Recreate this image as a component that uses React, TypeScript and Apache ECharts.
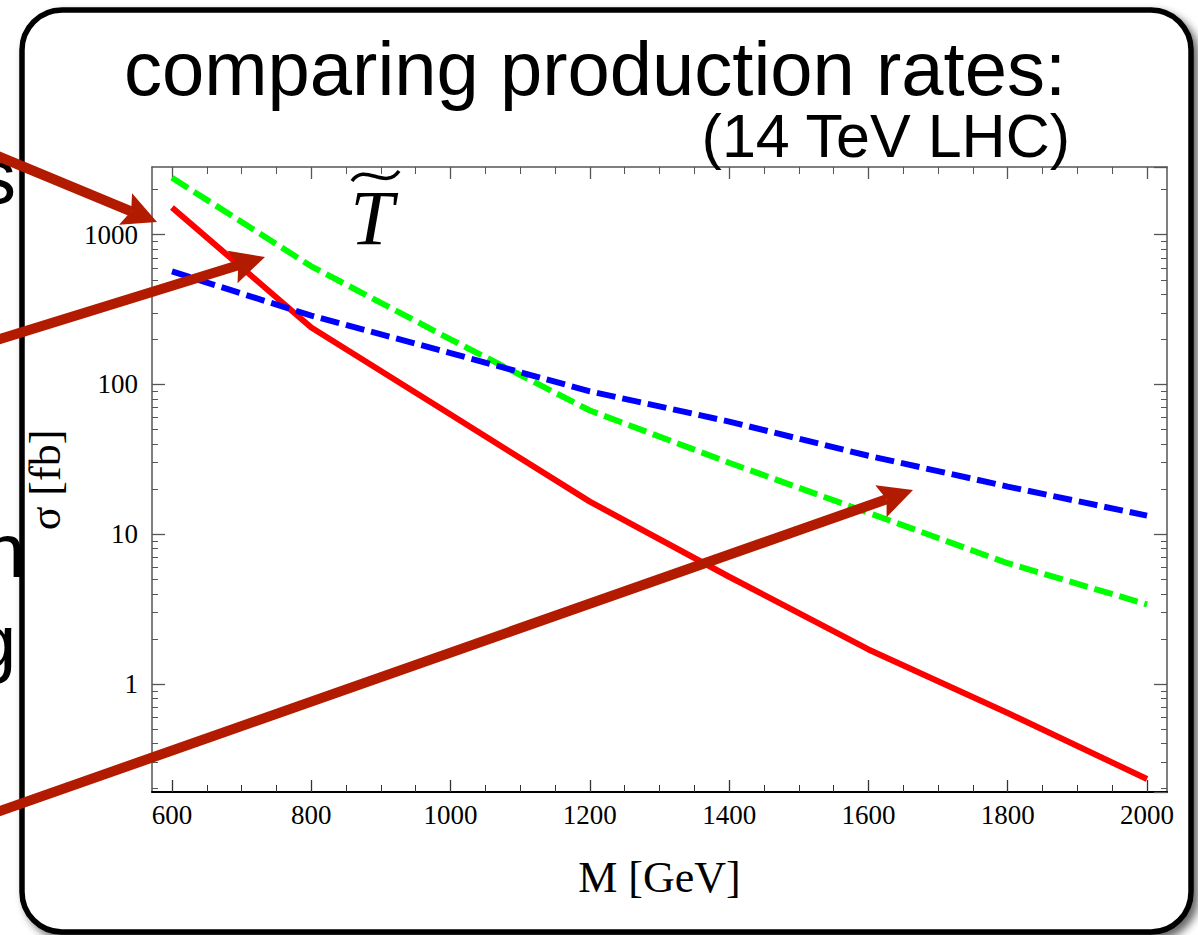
import React, { useEffect, useRef } from "react";
import * as echarts from "echarts";

// ---- data ----
const MASS = [600, 800, 1000, 1200, 1400, 1600, 1800, 2000];
const SIGMA_RED = [1520, 240, 63, 16.5, 5.2, 1.7, 0.64, 0.232];
const SIGMA_GREEN = [2400, 615, 200, 67, 30, 13.9, 6.4, 3.4];
const SIGMA_BLUE = [568, 288, 162, 90, 56.5, 33.4, 20.8, 13.3];

// ---- axes ----
const X_MIN = 571.3;
const X_MAX = 2028.7;
const Y_MIN = 0.19;
const Y_MAX = 2830;
const X_MAJOR = [600, 800, 1000, 1200, 1400, 1600, 1800, 2000];
const X_MINOR = [
  650, 700, 750, 850, 900, 950, 1050, 1100, 1150, 1250, 1300, 1350, 1450, 1500,
  1550, 1650, 1700, 1750, 1850, 1900, 1950,
];
const Y_MINOR = [
  0.2, 0.3, 0.4, 0.5, 0.6, 0.7, 0.8, 0.9, 2, 3, 4, 5, 6, 7, 8, 9, 20, 30, 40, 50,
  60, 70, 80, 90, 200, 300, 400, 500, 600, 700, 800, 900, 2000,
];

// ---- texts ----
const TITLE = "comparing production rates:";
const SUBTITLE = "(14 TeV LHC)";
const X_NAME = "M [GeV]";
const Y_NAME = "σ [fb]";
const PARTICLE = "T";

// ---- slide annotation arrows: [startX, startY, tipX, tipY] ----
const ARROWS = [
  [0, 157, 157, 222],
  [0, 339, 265, 257],
  [0, 811, 913, 490],
];
const ARROW_COLOR = "#b31b00";

const SERIF = '"Liberation Serif", "Times New Roman", Times, serif';
const SANS = '"Liberation Sans", Arial, Helvetica, sans-serif';
const FRAME = "#555";
const LINE_W = 6;

function arrowElements() {
  const els: any[] = [];
  ARROWS.forEach(([x0, y0, x1, y1]) => {
    const dx = x1 - x0;
    const dy = y1 - y0;
    const len = Math.hypot(dx, dy);
    const ux = dx / len;
    const uy = dy / len;
    const nx = -uy;
    const ny = ux;
    const L = 34;
    const W = 17;
    const N = 6;
    const bx = x1 - ux * L;
    const by = y1 - uy * L;
    const kx = x1 - ux * (L - N);
    const ky = y1 - uy * (L - N);
    els.push({
      type: "line",
      z: 20,
      shape: { x1: x0 - ux * 30, y1: y0 - uy * 30, x2: kx, y2: ky },
      style: { stroke: ARROW_COLOR, lineWidth: 10 },
    });
    els.push({
      type: "polygon",
      z: 20,
      shape: {
        points: [
          [x1, y1],
          [bx + nx * W, by + ny * W],
          [kx, ky],
          [bx - nx * W, by - ny * W],
        ],
      },
      style: { fill: ARROW_COLOR },
    });
  });
  return els;
}

function buildOption() {
  const xCommon = {
    type: "value",
    min: X_MIN,
    max: X_MAX,
    splitLine: { show: false },
  };
  const lyMin = Math.log10(Y_MIN);
  const lyMax = Math.log10(Y_MAX);
  const yHelper = {
    type: "value",
    min: lyMin,
    max: lyMax,
    splitLine: { show: false },
    axisLine: { show: false, onZero: false },
    axisLabel: { show: false },
    axisTick: {
      show: true,
      inside: true,
      length: 6,
      customValues: Y_MINOR.map((v) => Math.log10(v)),
      lineStyle: { color: FRAME, width: 1 },
    },
  };

  return {
    animation: false,
    backgroundColor: "#ffffff",
    grid: {
      left: 152,
      top: 167,
      width: 1015,
      height: 625,
      containLabel: false,
      outerBoundsMode: "none",
    },
    xAxis: [
      {
        ...xCommon,
        position: "bottom",
        axisLine: {
          show: true,
          onZero: false,
          lineStyle: { color: "#000", width: 2 },
        },
        axisTick: {
          show: true,
          inside: true,
          length: 12,
          customValues: X_MAJOR,
          lineStyle: { color: "#333", width: 1.3 },
        },
        axisLabel: {
          show: true,
          customValues: X_MAJOR,
          margin: 9,
          fontFamily: SERIF,
          fontSize: 27,
          color: "#000",
          formatter: (v: number) => String(Math.round(v)),
        },
        name: X_NAME,
        nameLocation: "middle",
        nameGap: 63,
        nameTextStyle: { fontFamily: SERIF, fontSize: 44, color: "#000" },
      },
      {
        ...xCommon,
        position: "bottom",
        axisLine: { show: false, onZero: false },
        axisLabel: { show: false },
        axisTick: {
          show: true,
          inside: true,
          length: 7,
          customValues: X_MINOR,
          lineStyle: { color: "#333", width: 1 },
        },
      },
      {
        ...xCommon,
        position: "top",
        axisLine: {
          show: true,
          onZero: false,
          lineStyle: { color: FRAME, width: 1.5 },
        },
        axisLabel: { show: false },
        axisTick: {
          show: true,
          inside: true,
          length: 12,
          customValues: X_MAJOR,
          lineStyle: { color: FRAME, width: 1.3 },
        },
      },
      {
        ...xCommon,
        position: "top",
        axisLine: { show: false, onZero: false },
        axisLabel: { show: false },
        axisTick: {
          show: true,
          inside: true,
          length: 7,
          customValues: X_MINOR,
          lineStyle: { color: FRAME, width: 1 },
        },
      },
    ],
    yAxis: [
      {
        type: "log",
        logBase: 10,
        position: "left",
        min: Y_MIN,
        max: Y_MAX,
        splitLine: { show: false },
        axisLine: {
          show: true,
          onZero: false,
          lineStyle: { color: FRAME, width: 1.5 },
        },
        axisTick: {
          show: true,
          inside: true,
          length: 13,
          lineStyle: { color: FRAME, width: 1.3 },
        },
        axisLabel: {
          show: true,
          showMinLabel: false,
          showMaxLabel: false,
          margin: 14,
          fontFamily: SERIF,
          fontSize: 27,
          color: "#000",
          formatter: (v: number) => String(Math.round(v)),
        },
      },
      {
        type: "log",
        logBase: 10,
        position: "right",
        min: Y_MIN,
        max: Y_MAX,
        splitLine: { show: false },
        axisLine: {
          show: true,
          onZero: false,
          lineStyle: { color: FRAME, width: 1.5 },
        },
        axisTick: {
          show: true,
          inside: true,
          length: 13,
          lineStyle: { color: FRAME, width: 1.3 },
        },
        axisLabel: { show: false },
      },
      { ...yHelper, position: "left" },
      { ...yHelper, position: "right" },
    ],
    series: [
      {
        type: "line",
        name: "red",
        xAxisIndex: 0,
        yAxisIndex: 0,
        showSymbol: false,
        symbol: "none",
        data: MASS.map((m, i) => [m, SIGMA_RED[i]]),
        lineStyle: { color: "#ff0000", width: LINE_W },
      },
      {
        type: "line",
        name: "green",
        xAxisIndex: 0,
        yAxisIndex: 0,
        showSymbol: false,
        symbol: "none",
        data: MASS.map((m, i) => [m, SIGMA_GREEN[i]]),
        lineStyle: {
          color: "#00ff00",
          width: LINE_W,
          type: [19, 7],
          cap: "butt",
        },
      },
      {
        type: "line",
        name: "blue",
        xAxisIndex: 0,
        yAxisIndex: 0,
        showSymbol: false,
        symbol: "none",
        data: MASS.map((m, i) => [m, SIGMA_BLUE[i]]),
        lineStyle: {
          color: "#0000ff",
          width: LINE_W,
          type: [19, 7],
          cap: "butt",
        },
      },
    ],
    graphic: {
      elements: [
        // fragments of the slide behind the pop-up box
        {
          type: "text",
          z: -3,
          x: 16,
          y: 176.7,
          style: {
            text: "s",
            fontFamily: SANS,
            fontSize: 76,
            fill: "#000",
            align: "right",
            verticalAlign: "middle",
          },
        },
        {
          type: "text",
          z: -3,
          x: -17,
          y: 550.7,
          style: {
            text: "ng",
            fontFamily: SANS,
            fontSize: 76,
            fill: "#000",
            align: "left",
            verticalAlign: "middle",
          },
        },
        {
          type: "text",
          z: -3,
          x: -26,
          y: 641.7,
          style: {
            text: "gl",
            fontFamily: SANS,
            fontSize: 76,
            fill: "#000",
            align: "left",
            verticalAlign: "middle",
          },
        },
        // pop-up box
        {
          type: "rect",
          z: -2,
          shape: { x: 22, y: 10, width: 1169, height: 922, r: 40 },
          style: {
            fill: "#ffffff",
            stroke: "#000",
            lineWidth: 5.5,
            shadowBlur: 8,
            shadowOffsetX: 5,
            shadowOffsetY: 5,
            shadowColor: "rgba(0,0,0,0.6)",
          },
        },
        {
          type: "text",
          z: 10,
          x: 124,
          y: 68.7,
          style: {
            text: TITLE,
            fontFamily: SANS,
            fontSize: 76,
            lineHeight: 62,
            fill: "#000",
            align: "left",
            verticalAlign: "middle",
          },
        },
        {
          type: "text",
          z: 10,
          x: 1070,
          y: 136,
          style: {
            text: SUBTITLE,
            fontFamily: SANS,
            fontSize: 61,
            lineHeight: 50,
            fill: "#000",
            align: "right",
            verticalAlign: "middle",
          },
        },
        {
          type: "text",
          z: 10,
          x: 372,
          y: 217,
          style: {
            text: PARTICLE,
            fontFamily: SERIF,
            fontStyle: "italic",
            fontSize: 78,
            fill: "#000",
            align: "center",
            verticalAlign: "middle",
          },
        },
        {
          type: "bezierCurve",
          z: 10,
          shape: {
            x1: 352,
            y1: 181,
            cpx1: 365,
            cpy1: 162,
            cpx2: 385,
            cpy2: 191,
            x2: 399,
            y2: 171,
          },
          style: { stroke: "#000", lineWidth: 3.5, fill: null },
        },
        {
          type: "text",
          z: 10,
          x: 45,
          y: 480,
          rotation: Math.PI / 2,
          style: {
            text: Y_NAME,
            fontFamily: SERIF,
            fontSize: 44,
            fill: "#000",
            align: "center",
            verticalAlign: "middle",
          },
        },
        ...arrowElements(),
      ],
    },
  };
}

export default function App() {
  const ref = useRef<HTMLDivElement>(null);
  useEffect(() => {
    document.body.style.margin = "0";
    const chart = echarts.init(ref.current as HTMLDivElement, null, {
      renderer: "svg",
    });
    chart.setOption(buildOption() as any);
    return () => {
      chart.dispose();
    };
  }, []);
  return <div ref={ref} style={{ width: 1198, height: 935 }} />;
}
